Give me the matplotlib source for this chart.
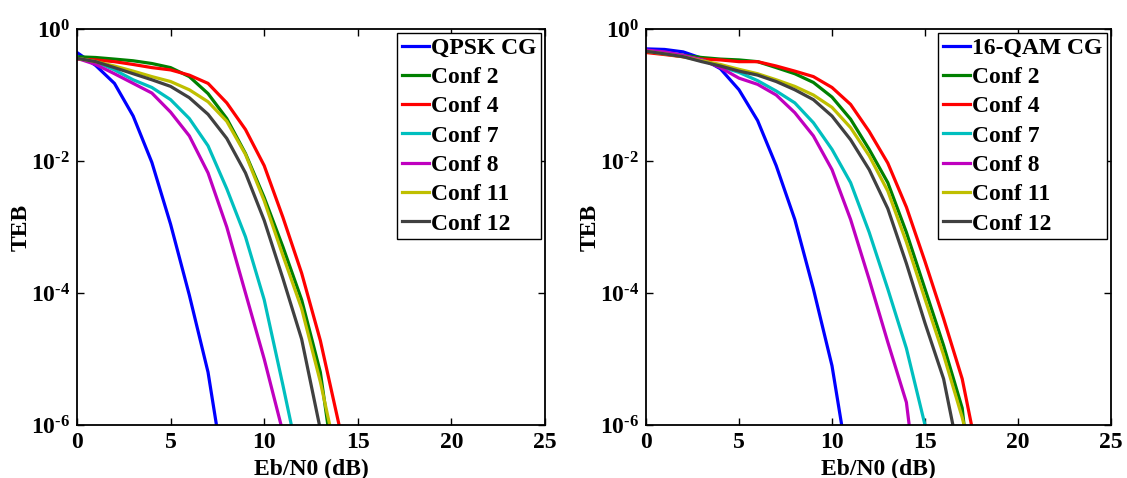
import numpy as np
import matplotlib
matplotlib.use("Agg")
import matplotlib.pyplot as plt
from matplotlib.ticker import FixedLocator, NullLocator, FuncFormatter

plt.rcParams["font.family"] = "Liberation Serif"
plt.rcParams["font.weight"] = "bold"
plt.rcParams["mathtext.fontset"] = "custom"
plt.rcParams["mathtext.rm"] = "Liberation Serif:bold"
plt.rcParams["mathtext.it"] = "Liberation Serif:bold"
plt.rcParams["mathtext.bf"] = "Liberation Serif:bold"
plt.rcParams["axes.unicode_minus"] = False

# --- left panel: QPSK (Eb/N0 in dB, TEB values) ---
qpsk_cg_x = [0, 1, 2, 3, 4, 5, 6, 7, 7.45]
qpsk_cg_y = [4.4e-1, 2.8e-1, 1.5e-1, 4.8e-2, 9.5e-3, 1.1e-3, 9.3e-5, 6.3e-6, 1e-6]

qpsk_c2_x = [0, 1, 2, 3, 4, 5, 6, 7, 8, 9, 10, 11, 12, 13, 13.4]
qpsk_c2_y = [3.8e-1, 3.7e-1, 3.5e-1, 3.3e-1, 3.0e-1, 2.6e-1, 1.9e-1, 1.05e-1,
             4.4e-2, 1.3e-2, 2.8e-3, 5.0e-4, 7.9e-5, 6.3e-6, 1e-6]

qpsk_c4_x = [0, 1, 2, 3, 4, 5, 6, 7, 8, 9, 10, 11, 12, 13, 14]
qpsk_c4_y = [3.5e-1, 3.4e-1, 3.2e-1, 2.9e-1, 2.6e-1, 2.4e-1, 2.0e-1, 1.5e-1,
             7.6e-2, 3.0e-2, 8.5e-3, 1.4e-3, 2.0e-4, 1.9e-5, 1e-6]

qpsk_c7_x = [0, 1, 2, 3, 4, 5, 6, 7, 8, 9, 10, 11, 11.45]
qpsk_c7_y = [3.6e-1, 3.2e-1, 2.4e-1, 1.7e-1, 1.3e-1, 8.5e-2, 4.4e-2, 1.7e-2,
             3.8e-3, 7.1e-4, 7.9e-5, 4.0e-6, 1e-6]

qpsk_c8_x = [0, 1, 2, 3, 4, 5, 6, 7, 8, 9, 10, 10.9]
qpsk_c8_y = [3.6e-1, 2.9e-1, 2.1e-1, 1.5e-1, 1.07e-1, 5.5e-2, 2.4e-2, 6.6e-3,
             1.0e-3, 1.0e-4, 1.0e-5, 1e-6]

qpsk_c11_x = [0, 1, 2, 3, 4, 5, 6, 7, 8, 9, 10, 11, 12, 13, 13.5]
qpsk_c11_y = [3.6e-1, 3.2e-1, 2.75e-1, 2.3e-1, 1.9e-1, 1.6e-1, 1.2e-1, 7.9e-2,
              4.0e-2, 1.26e-2, 2.5e-3, 3.7e-4, 5.8e-5, 4.5e-6, 1e-6]

qpsk_c12_x = [0, 1, 2, 3, 4, 5, 6, 7, 8, 9, 10, 11, 12, 12.95]
qpsk_c12_y = [3.6e-1, 3.2e-1, 2.6e-1, 2.1e-1, 1.7e-1, 1.35e-1, 9.1e-2, 5.1e-2,
              2.2e-2, 6.6e-3, 1.26e-3, 1.66e-4, 2.0e-5, 1e-6]

# --- right panel: 16-QAM ---
qam_cg_x = [0, 1, 2, 3, 4, 5, 6, 7, 8, 9, 10, 10.52]
qam_cg_y = [5.0e-1, 4.9e-1, 4.5e-1, 3.6e-1, 2.5e-1, 1.2e-1, 4.1e-2, 8.5e-3,
            1.3e-3, 1.15e-4, 7.9e-6, 1e-6]

qam_c2_x = [0, 1, 2, 3, 4, 5, 6, 7, 8, 9, 10, 11, 12, 13, 14, 15, 16, 17, 17.1]
qam_c2_y = [4.6e-1, 4.3e-1, 4.0e-1, 3.7e-1, 3.5e-1, 3.4e-1, 3.2e-1, 2.6e-1,
            2.1e-1, 1.55e-1, 9.3e-2, 4.3e-2, 1.5e-2, 4.7e-3, 8.3e-4, 1.15e-4,
            1.6e-5, 1.8e-6, 1e-6]

qam_c4_x = [0, 1, 2, 3, 4, 5, 6, 7, 8, 9, 10, 11, 12, 13, 14, 15, 16, 17, 17.5]
qam_c4_y = [4.4e-1, 4.1e-1, 3.8e-1, 3.5e-1, 3.4e-1, 3.2e-1, 3.2e-1, 2.75e-1,
            2.3e-1, 1.9e-1, 1.3e-1, 7.2e-2, 2.8e-2, 9.3e-3, 2.0e-3, 3.0e-4,
            4.1e-5, 5.0e-6, 1e-6]

qam_c7_x = [0, 1, 2, 3, 4, 5, 6, 7, 8, 9, 10, 11, 12, 13, 14, 15]
qam_c7_y = [4.7e-1, 4.4e-1, 3.9e-1, 3.4e-1, 2.7e-1, 2.2e-1, 1.65e-1, 1.15e-1,
            7.6e-2, 3.8e-2, 1.5e-2, 4.7e-3, 8.3e-4, 1.15e-4, 1.45e-5, 1e-6]

qam_c8_x = [0, 1, 2, 3, 4, 5, 6, 7, 8, 9, 10, 11, 12, 13, 14, 14.15]
qam_c8_y = [4.8e-1, 4.5e-1, 4.0e-1, 3.4e-1, 2.6e-1, 1.8e-1, 1.45e-1, 1.0e-1,
            5.4e-2, 2.4e-2, 7.4e-3, 1.3e-3, 1.6e-4, 1.8e-5, 2.2e-6, 1e-6]

qam_c11_x = [0, 1, 2, 3, 4, 5, 6, 7, 8, 9, 10, 11, 12, 13, 14, 15, 16, 17, 17.1]
qam_c11_y = [4.6e-1, 4.2e-1, 3.8e-1, 3.3e-1, 2.9e-1, 2.45e-1, 2.1e-1, 1.7e-1,
             1.35e-1, 1.0e-1, 6.5e-2, 3.2e-2, 1.2e-2, 3.5e-3, 5.9e-4, 8.1e-5,
             1.15e-5, 1.3e-6, 1e-6]

qam_c12_x = [0, 1, 2, 3, 4, 5, 6, 7, 8, 9, 10, 11, 12, 13, 14, 15, 16, 16.5]
qam_c12_y = [4.6e-1, 4.2e-1, 3.8e-1, 3.2e-1, 2.75e-1, 2.3e-1, 2.0e-1, 1.6e-1,
             1.2e-1, 8.5e-2, 4.8e-2, 2.1e-2, 7.4e-3, 1.9e-3, 2.8e-4, 3.5e-5,
             5.0e-6, 1e-6]

conf_labels = ["Conf 2", "Conf 4", "Conf 7", "Conf 8", "Conf 11", "Conf 12"]
colors = ["#0000ff", "#008000", "#ff0000", "#00bfbf", "#bf00bf", "#bfbf00", "#404040"]

left_series = [(qpsk_cg_x, qpsk_cg_y), (qpsk_c2_x, qpsk_c2_y), (qpsk_c4_x, qpsk_c4_y),
               (qpsk_c7_x, qpsk_c7_y), (qpsk_c8_x, qpsk_c8_y), (qpsk_c11_x, qpsk_c11_y),
               (qpsk_c12_x, qpsk_c12_y)]
right_series = [(qam_cg_x, qam_cg_y), (qam_c2_x, qam_c2_y), (qam_c4_x, qam_c4_y),
                (qam_c7_x, qam_c7_y), (qam_c8_x, qam_c8_y), (qam_c11_x, qam_c11_y),
                (qam_c12_x, qam_c12_y)]

W, H = 1127, 478
fig = plt.figure(figsize=(W / 100, H / 100), dpi=100)
ax_l = fig.add_axes([77 / W, 1 - 425 / H, (545 - 77) / W, (425 - 29) / H])
ax_r = fig.add_axes([646 / W, 1 - 425 / H, (1111 - 646) / W, (425 - 29) / H])


def pow10_label(v, pos):
    # 10^-k with a plain hyphen, like the original figure
    e = int(round(np.log10(v)))
    if e < 0:
        return r"$\mathdefault{10^{\text{-}%d}}$" % (-e)
    return r"$\mathdefault{10^{%d}}$" % e


def draw_panel(ax, series, first_label):
    labels = [first_label] + conf_labels
    for (x, y), c, lab in zip(series, colors, labels):
        ax.semilogy(x, y, color=c, lw=2.3, label=lab)
    ax.set_xlim(0, 25)
    ax.set_ylim(1e-6, 1)
    ax.set_xticks([0, 5, 10, 15, 20, 25])
    ax.yaxis.set_major_locator(FixedLocator([1e-6, 1e-4, 1e-2, 1]))
    ax.yaxis.set_minor_locator(NullLocator())
    ax.yaxis.set_major_formatter(FuncFormatter(pow10_label))
    ax.tick_params(direction="in", top=True, right=True, length=5, width=1)
    ax.tick_params(axis="x", labelsize=17, pad=5)
    ax.tick_params(axis="y", labelsize=17, pad=5)
    for sp in ax.spines.values():
        sp.set_linewidth(1.3)
    ax.set_xlabel("Eb/N0 (dB)", fontsize=17, fontweight="bold", labelpad=4)
    ax.set_ylabel("TEB", fontsize=17, fontweight="bold", labelpad=-1)
    leg = ax.legend(loc="upper right", fontsize=17, handlelength=1.15,
                    handletextpad=0.1, labelspacing=0.33, borderpad=0.2,
                    borderaxespad=0.15, fancybox=False, framealpha=1,
                    edgecolor="black")
    leg.get_frame().set_linewidth(1.0)


draw_panel(ax_l, left_series, "QPSK CG")
draw_panel(ax_r, right_series, "16-QAM CG")

fig.savefig("out.png", dpi=100)
